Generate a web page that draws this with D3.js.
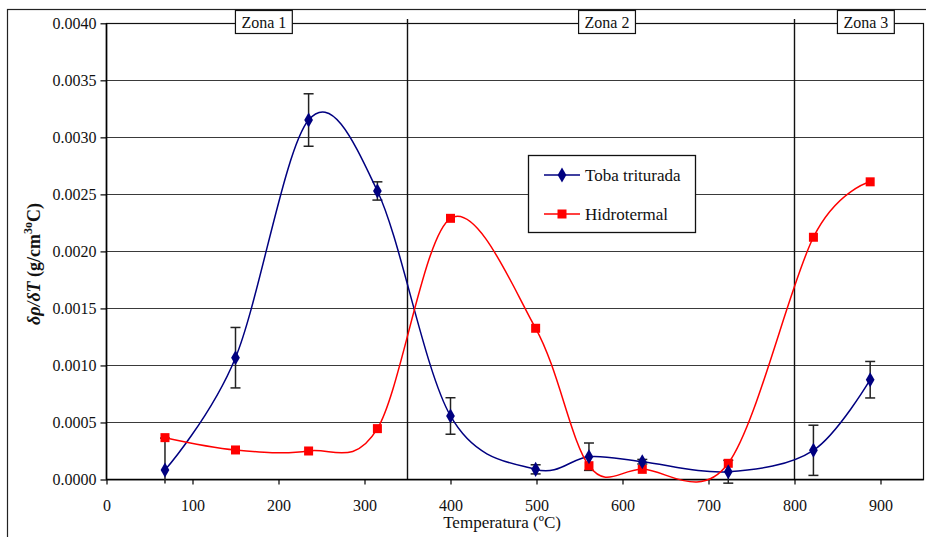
<!DOCTYPE html>
<html>
<head>
<meta charset="utf-8">
<script src="https://cdn.jsdelivr.net/npm/d3@7"></script>
<style>
  html, body { margin: 0; padding: 0; background: #fff; }
  svg { display: block; }
  svg text { font-family: "Liberation Serif", "Times New Roman", Times, "DejaVu Serif", serif !important; }
</style>
</head>
<body>
<svg id="chart" width="926" height="537"></svg>
<script>
// Temperature (°C) of each measurement
const temperatures = [68, 150, 235, 315, 400, 499, 561, 623, 723, 822, 888];
// δρ/δT for crushed tuff, with its error bars
const tobaValues = [0.000083, 0.001068, 0.003152, 0.00253, 0.000557, 0.000089, 0.0002, 0.000156, 0.000068, 0.000256, 0.000875];
const tobaErrors = [0.00028, 0.000265, 0.00023, 0.00008, 0.00016, 0.00004, 0.00012, 0.00002, 0.0001, 0.00022, 0.00016];
// δρ/δT for the hydrothermal sample
const hidroValues = [0.000367, 0.000259, 0.00025, 0.000446, 0.00229, 0.001326, 0.000121, 0.000089, 0.000142, 0.002124, 0.00261];

const seriesNames = ["Toba triturada", "Hidrotermal"];
const xTicks = [0, 100, 200, 300, 400, 500, 600, 700, 800, 900];
const yTicks = [0, 0.0005, 0.001, 0.0015, 0.002, 0.0025, 0.003, 0.0035, 0.004];
// Zone boundaries and label anchors (°C)
const zoneBounds = [350, 800];
const zoneNames = ["Zona 1", "Zona 2", "Zona 3"];
const zoneLabelAt = [183, 582, 883];

const svg = d3.select("#chart");
const navy = "#000080", red = "#ff0000";

const plot = { left: 106.5, right: 923.5, top: 23.3, bottom: 479.5 };
const x = d3.scaleLinear().domain([0, 950]).range([plot.left, plot.right]);
const y = d3.scaleLinear().domain([0, 0.004]).range([plot.bottom, plot.top]);

// chart frame
svg.append("rect")
  .attr("x", 7.5).attr("y", 9.5).attr("width", 1000).attr("height", 1000)
  .attr("fill", "none").attr("stroke", "#222").attr("stroke-width", 1.2);

// horizontal gridlines
svg.append("g").selectAll("line").data(yTicks.slice(1)).join("line")
  .attr("x1", plot.left).attr("x2", plot.right)
  .attr("y1", d => Math.round(y(d)) + 0.5).attr("y2", d => Math.round(y(d)) + 0.5)
  .attr("stroke", "#3a3a3a").attr("stroke-width", 1);

// plot border
svg.append("rect")
  .attr("x", plot.left).attr("y", Math.round(y(0.004)) + 0.5)
  .attr("width", plot.right - plot.left).attr("height", plot.bottom - y(0.004))
  .attr("fill", "none").attr("stroke", "#111").attr("stroke-width", 1.2);

// zone separators
svg.append("g").selectAll("line").data(zoneBounds).join("line")
  .attr("x1", d => x(d)).attr("x2", d => x(d))
  .attr("y1", 19).attr("y2", plot.bottom)
  .attr("stroke", "#111").attr("stroke-width", 1.4);

// axes
const yAxis = svg.append("g")
  .attr("transform", `translate(${plot.left},0)`)
  .call(d3.axisLeft(y).tickValues(yTicks).tickFormat(d3.format(".4f")).tickSize(6).tickPadding(4));
const xAxis = svg.append("g")
  .attr("transform", `translate(0,${plot.bottom})`)
  .call(d3.axisBottom(x).tickValues(xTicks).tickFormat(d3.format("d")).tickSize(5).tickPadding(15));
[yAxis, xAxis].forEach(g => {
  g.select(".domain").attr("stroke", "#000").attr("stroke-width", 1.6);
  g.selectAll(".tick line").attr("stroke", "#000").attr("stroke-width", 1.2);
  g.selectAll("text").attr("font-size", 16).attr("fill", "#111");
});
yAxis.select(".domain").attr("d", `M0,${plot.top}V${plot.bottom}`);
xAxis.select(".domain").attr("d", `M${plot.left},0H${plot.right}`);

// axis titles
svg.append("text")
  .attr("x", x(460)).attr("y", 528)
  .attr("text-anchor", "middle").attr("font-size", 17).attr("fill", "#111")
  .text("Temperatura (ºC)");

const yt = svg.append("text")
  .attr("transform", "translate(40,264) rotate(-90)")
  .attr("text-anchor", "middle").attr("font-size", 18).attr("font-weight", "bold").attr("fill", "#111");
yt.append("tspan").attr("font-style", "italic").text("δρ/δT");
yt.append("tspan").text("  (g/cm");
yt.append("tspan").attr("font-size", 12).attr("dy", -8).text("3");
yt.append("tspan").attr("font-size", 12).text("o");
yt.append("tspan").attr("dy", 8).text("C)");

// zone labels
zoneNames.forEach((name, i) => {
  const g = svg.append("g");
  const t = g.append("text")
    .attr("x", x(zoneLabelAt[i])).attr("y", 28)
    .attr("text-anchor", "middle").attr("font-size", 16).attr("fill", "#111")
    .text(name);
  const w = t.node().getComputedTextLength() + 12;
  g.insert("rect", "text")
    .attr("x", x(zoneLabelAt[i]) - w / 2).attr("y", 10.5)
    .attr("width", w).attr("height", 23)
    .attr("fill", "#fff").attr("stroke", "#111").attr("stroke-width", 1.2);
});

const toba = temperatures.map((t, i) => ({ t, v: tobaValues[i], e: tobaErrors[i] }));
const hidro = temperatures.map((t, i) => ({ t, v: hidroValues[i] }));
const line = d3.line().x(d => x(d.t)).y(d => y(d.v)).curve(d3.curveCardinal.tension(0));

// error bars for the crushed tuff series
const eb = svg.append("g").attr("stroke", "#222").attr("stroke-width", 1.5);
toba.forEach(d => {
  const top = y(d.v + d.e);
  const lowRaw = y(d.v - d.e);
  const low = Math.min(lowRaw, plot.bottom + 4);
  eb.append("line").attr("x1", x(d.t)).attr("x2", x(d.t)).attr("y1", top).attr("y2", low);
  eb.append("line").attr("x1", x(d.t) - 5).attr("x2", x(d.t) + 5).attr("y1", top).attr("y2", top);
  if (lowRaw <= plot.bottom + 4)
    eb.append("line").attr("x1", x(d.t) - 5).attr("x2", x(d.t) + 5).attr("y1", low).attr("y2", low);
});

// curves
svg.append("path").datum(toba).attr("d", line)
  .attr("fill", "none").attr("stroke", navy).attr("stroke-width", 1.5);
svg.append("path").datum(hidro).attr("d", line)
  .attr("fill", "none").attr("stroke", red).attr("stroke-width", 1.5);

// markers
const diamond = d3.symbol().type(d3.symbolDiamond).size(66);
svg.append("g").selectAll("rect").data(hidro).join("rect")
  .attr("x", d => x(d.t) - 4.5).attr("y", d => y(d.v) - 4.5)
  .attr("width", 9).attr("height", 9).attr("fill", red);
svg.append("g").selectAll("path").data(toba).join("path")
  .attr("d", diamond)
  .attr("transform", d => `translate(${x(d.t)},${y(d.v)})`)
  .attr("fill", navy);

// legend
const lg = svg.append("g");
lg.append("rect").attr("x", 528.5).attr("y", 155.5).attr("width", 167).attr("height", 77)
  .attr("fill", "#fff").attr("stroke", "#111").attr("stroke-width", 1.3);
const legendRows = [
  { name: seriesNames[0], color: navy, mark: "diamond", cy: 175 },
  { name: seriesNames[1], color: red, mark: "square", cy: 214 }
];
legendRows.forEach(r => {
  lg.append("line").attr("x1", 544).attr("x2", 580).attr("y1", r.cy).attr("y2", r.cy)
    .attr("stroke", r.color).attr("stroke-width", 1.5);
  if (r.mark === "diamond")
    lg.append("path").attr("d", diamond).attr("transform", `translate(562,${r.cy})`).attr("fill", r.color);
  else
    lg.append("rect").attr("x", 557.5).attr("y", r.cy - 4.5).attr("width", 9).attr("height", 9).attr("fill", r.color);
  lg.append("text").attr("x", 585).attr("y", r.cy).attr("dy", "0.35em")
    .attr("font-size", 17).attr("fill", "#111").text(r.name);
});
</script>
</body>
</html>
